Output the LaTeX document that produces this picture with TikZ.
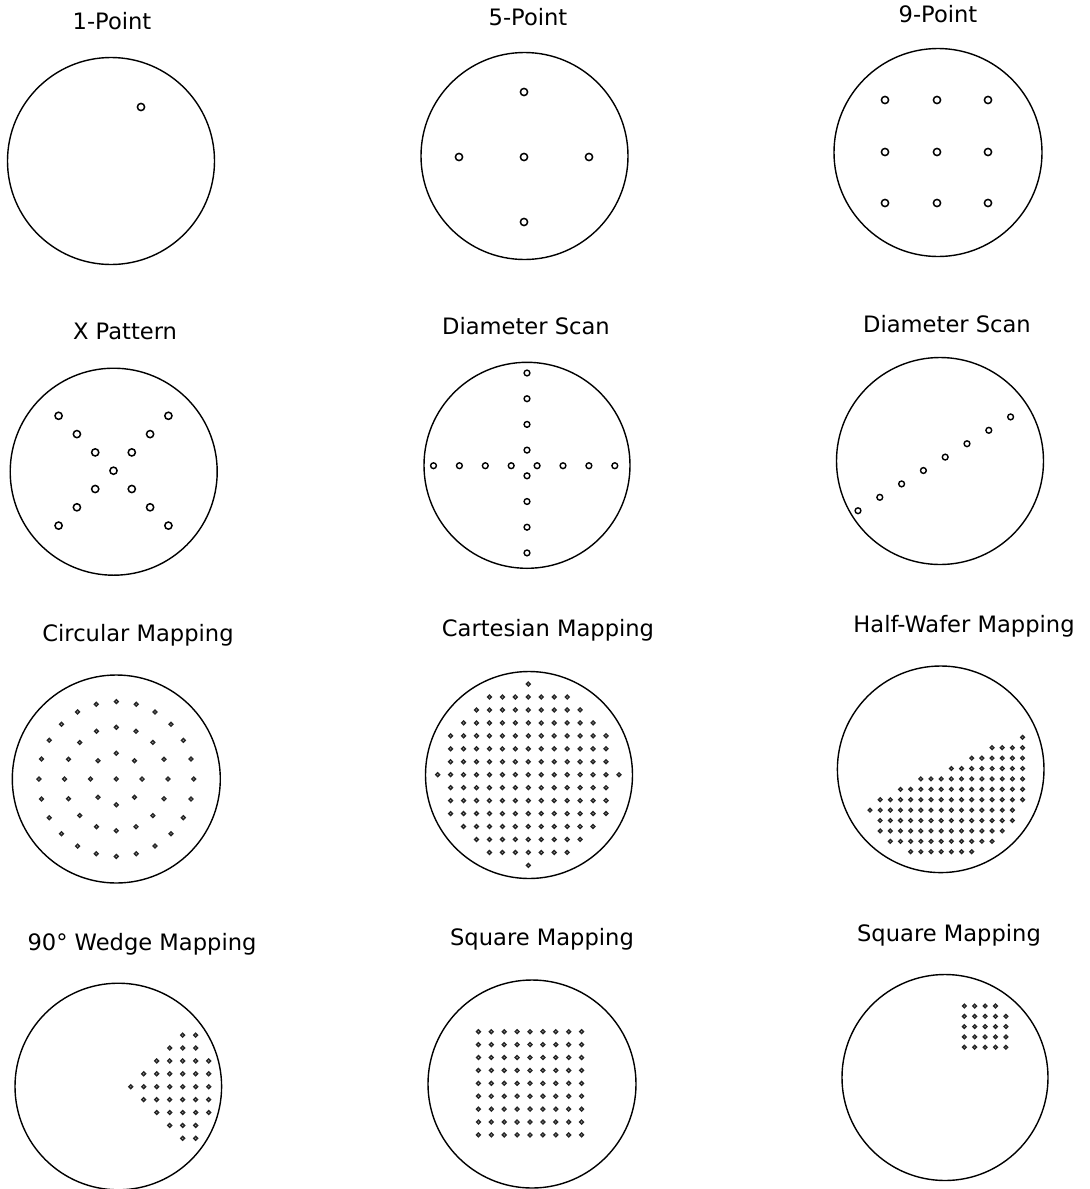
\documentclass[tikz,border=0pt]{standalone}
\usepackage{fontspec}
\setmainfont{DejaVu Sans}
\begin{document}
\begin{tikzpicture}[x=0.5pt,y=-0.5pt,
  wafer/.style={draw=black,line width=0.7pt},
  bigdot/.style={draw=black,line width=0.75pt},
  meddot/.style={draw=black,line width=0.7pt},
  sdot/.style={draw=black!85,fill=black!30,line width=0.7pt},
  lbl/.style={anchor=base,inner sep=0pt,font=\fontsize{11.3}{13}\selectfont}]
\useasboundingbox (0,0) rectangle (1090,1189);
\fill[white] (0,0) rectangle (1090,1189);

% ---------- Row 1 ----------
\node[lbl] (t1) at (112,29) {1-Point};
\draw[wafer] (111,161) circle (103.5);
\draw[bigdot] (141,107) circle (3.6);

\node[lbl] (t2) at (528,25) {5-Point};
\draw[wafer] (524.5,156) circle (103.5);
\foreach \p in {(524,92),(459,157),(524,157),(589,157),(524,222)}
  \draw[bigdot] \p circle (3.6);

\node[lbl] (t3) at (938,22) {9-Point};
\draw[wafer] (938,152.5) circle (104);
\foreach \xx in {885,937,988}
  \foreach \yy in {100,152,203}
    \draw[bigdot] (\xx,\yy) circle (3.6);

% ---------- Row 2 ----------
\node[lbl] (t4) at (125,339) {X Pattern};
\draw[wafer] (113.7,471.7) circle (103.5);
\draw[bigdot] (113.5,470.7) circle (3.6);
\foreach \k in {1,2,3}{
  \draw[bigdot] ({113.5+18.3*\k},{470.7+18.3*\k}) circle (3.6);
  \draw[bigdot] ({113.5-18.3*\k},{470.7+18.3*\k}) circle (3.6);
  \draw[bigdot] ({113.5+18.3*\k},{470.7-18.3*\k}) circle (3.6);
  \draw[bigdot] ({113.5-18.3*\k},{470.7-18.3*\k}) circle (3.6);
}

\node[lbl] (t5) at (526,334) {Diameter Scan};
\draw[wafer] (527,465.3) circle (103);
\foreach \k in {0,...,7}{
  \draw[meddot] (527,{373+25.7*\k}) circle (2.9);
  \draw[meddot] ({433.5+25.9*\k},465.7) circle (2.9);
}

\node[lbl] (t6) at (947,332) {Diameter Scan};
\draw[wafer] (940,461) circle (103.5);
\foreach \k in {0,...,7}
  \draw[meddot] ({858+21.8*\k},{510.7-13.4*\k}) circle (2.9);

% ---------- Row 3 ----------
\node[lbl] (t7) at (138,641) {Circular Mapping};
\draw[wafer] (116.3,779) circle (104);
\draw[sdot] (116.3,779) circle (1.9);
\foreach \a in {0,45,...,315}
  \draw[sdot] ({116.3+25.8*cos(\a)},{779+25.8*sin(\a)}) circle (1.9);
\foreach \a in {0,22.5,...,337.5}
  \draw[sdot] ({116.3+51.7*cos(\a)},{779+51.7*sin(\a)}) circle (1.9);
\foreach \a in {0,15,...,345}
  \draw[sdot] ({116.3+77.4*cos(\a)},{779+77.4*sin(\a)}) circle (1.9);

\node[lbl] (t8) at (548,636) {Cartesian Mapping};
\draw[wafer] (529,775) circle (103.5);
\foreach \i in {-7,...,7}{
  \foreach \j in {-7,...,7}{
    \pgfmathtruncatemacro\dd{(\i)*(\i)+(\j)*(\j)}
    \ifnum\dd<50
      \draw[sdot] ({528.3+12.95*(\i)},{774.7+12.95*(\j)}) circle (1.9);
    \fi
  }
}

\node[lbl] (t9) at (964,632) {Half-Wafer Mapping};
\draw[wafer] (940.7,769.3) circle (103.3);
\foreach \r/\ka/\kb in {0/15/15,1/12/15,2/10/15,3/8/15,4/5/15,5/3/15,6/1/15,7/0/14,8/1/14,9/1/13,10/2/12,11/4/10}
  \foreach \k in {\ka,...,\kb}
    \draw[sdot] ({870+10.17*\k},{737.3+10.4*\r}) circle (1.8);

% ---------- Row 4 ----------
\node[lbl] (t10) at (142,950) {90° Wedge Mapping};
\draw[wafer] (118.3,1086.5) circle (103.3);
\foreach \i in {1,...,7}{
  \foreach \j in {-4,...,4}{
    \pgfmathtruncatemacro\dd{(\i)*(\i)+(\j)*(\j)}
    \pgfmathtruncatemacro\aj{abs(\j)+1}
    \ifnum\dd<57
      \ifnum\i<\aj\else
        \draw[sdot] ({117.7+13*(\i)},{1086.7+12.9*(\j)}) circle (1.9);
      \fi
    \fi
  }
}

\node[lbl] (t11) at (542,945) {Square Mapping};
\draw[wafer] (532,1084) circle (104);
\foreach \i in {-4,...,4}
  \foreach \j in {-4,...,4}
    \draw[sdot] ({530+12.9*(\i)},{1083.3+12.9*(\j)}) circle (1.9);

\node[lbl] (t12) at (949,941) {Square Mapping};
\draw[wafer] (945,1077.5) circle (103);
\foreach \i in {0,...,3}
  \draw[sdot] ({964.3+10.4*\i},1006) circle (1.8);
\foreach \j in {1,...,4}
  \foreach \i in {0,...,4}
    \draw[sdot] ({964.3+10.4*\i},{1006+10.3*\j}) circle (1.8);
\end{tikzpicture}
\end{document}
